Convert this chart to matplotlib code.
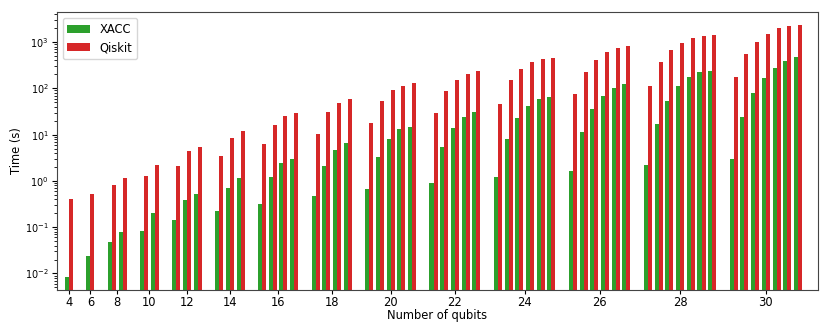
import matplotlib
matplotlib.use("Agg")
import matplotlib.pyplot as plt
import numpy as np

qubits = [4, 6, 8, 10, 12, 14, 16, 18, 20, 22, 24, 26, 28, 30]

xacc = [
    [0.0085],
    [0.0236],
    [0.047, 0.080],
    [0.083, 0.20],
    [0.14, 0.39, 0.51],
    [0.22, 0.70, 1.16],
    [0.31, 1.22, 2.4, 2.94],
    [0.47, 2.08, 4.6, 6.5],
    [0.67, 3.35, 8.2, 13.0, 14.8],
    [0.92, 5.3, 14.0, 24.0, 31.0],
    [1.22, 7.95, 22.6, 41.7, 59.0, 65.0],
    [1.64, 11.6, 35.9, 68.5, 103.0, 124.0],
    [2.25, 16.7, 54.0, 111.0, 174.0, 226.0, 240.0],
    [3.0, 24.0, 79.5, 170.0, 280.0, 390.0, 478.0],
]

qiskit = [
    [0.40],
    [0.52],
    [0.82, 1.14],
    [1.28, 2.18],
    [2.14, 4.45, 5.5],
    [3.5, 8.5, 11.8],
    [6.2, 15.9, 25.7, 29.4],
    [10.5, 31.0, 48.0, 60.0],
    [17.6, 52.7, 91.0, 114.0, 129.0],
    [29.4, 89.0, 151.0, 208.0, 238.0],
    [46.0, 149.0, 258.0, 372.0, 431.0, 460.0],
    [77.0, 229.0, 418.0, 600.0, 735.0, 824.0],
    [113.0, 372.0, 667.0, 955.0, 1230.0, 1380.0, 1440.0],
    [176.0, 545.0, 1000.0, 1520.0, 1990.0, 2230.0, 2380.0],
]

# positions: one slot per pair, one empty slot between groups
pos = []
tick_pos = []
slot = 0
for g in xacc:
    p = list(range(slot, slot + len(g)))
    pos.append(p)
    tick_pos.append(np.mean(p))
    slot += len(g) + 1

x = np.concatenate([np.array(p, dtype=float) for p in pos])
xv = np.concatenate([np.array(v) for v in xacc])
qv = np.concatenate([np.array(v) for v in qiskit])

fig = plt.figure(figsize=(8.3, 3.32), dpi=100)
ax = fig.add_axes([0.0687, 0.128, 0.9165, 0.835])

w = 0.375
ax.bar(x - w / 2, xv, width=w, color="#2ca02c", label="XACC")
ax.bar(x + w / 2, qv, width=w, color="#d62728", label="Qiskit")

ax.set_yscale("log")
ax.set_ylim(4.5e-3, 4.4e3)
ax.set_xlim(-1.12, 69.84)
ax.set_xticks(tick_pos)
ax.set_xticklabels([str(q) for q in qubits], fontsize=8.3)
ax.tick_params(axis="x", pad=1.5, length=3)
ax.tick_params(axis="y", labelsize=7, pad=2.5)
ax.set_xlabel("Number of qubits", fontsize=8.3, labelpad=0.5)
ax.set_ylabel("Time (s)", fontsize=8.3, labelpad=1)
ax.legend(loc="upper left", fontsize=8.3)
for s in ax.spines.values():
    s.set_color("#444444")

fig.savefig("out.png", dpi=100)
